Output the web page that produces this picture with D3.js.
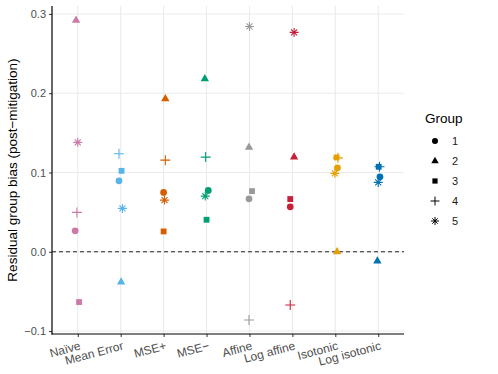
<!DOCTYPE html>
<html>
<head>
<meta charset="utf-8">
<script src="https://cdn.jsdelivr.net/npm/d3@7"></script>
<style>
  body { margin: 0; background: #fff; }
  text { font-family: "Liberation Sans", Arial, sans-serif; }
</style>
</head>
<body>
<div id="chart"></div>
<script>
// methods along the x axis
var methods = ["Naïve", "Mean Error", "MSE+", "MSE−", "Affine", "Log affine", "Isotonic", "Log isotonic"];
var methodColors = ["#CC79A7", "#56B4E9", "#D55E00", "#009E73", "#999999", "#C8203A", "#E69F00", "#0072B2"];
var groups = ["1", "2", "3", "4", "5"];

// residual bias per method, one value per group (1..5)
var biasNaive       = [0.0265, 0.292, -0.0634, 0.0497, 0.138];
var biasMeanError   = [0.0895, -0.0382, 0.1021, 0.1236, 0.0547];
var biasMSEplus     = [0.0749, 0.193, 0.0257, 0.1156, 0.0652];
var biasMSEminus    = [0.0774, 0.2182, 0.0404, 0.1194, 0.0702];
var biasAffine      = [0.0668, 0.1317, 0.0765, -0.0861, 0.2842];
var biasLogAffine   = [0.0567, 0.1194, 0.0665, -0.0672, 0.2767];
var biasIsotonic    = [0.1059, 0.0, 0.119, 0.1185, 0.0989];
var biasLogIsotonic = [0.0946, -0.0117, 0.1072, 0.1072, 0.0875];
var allBias = [biasNaive, biasMeanError, biasMSEplus, biasMSEminus,
               biasAffine, biasLogAffine, biasIsotonic, biasLogIsotonic];

// horizontal jitter (in category steps) as seen in the picture
var jitter = [
  [-0.06, -0.04, 0.03, -0.02, 0.0],
  [-0.04, 0.01, 0.02, -0.04, 0.04],
  [0.0, 0.04, 0.0, 0.04, 0.02],
  [0.04, -0.04, 0.0, -0.02, -0.03],
  [-0.01, -0.01, 0.06, -0.01, 0.0],
  [-0.05, 0.04, -0.05, -0.05, 0.04],
  [0.05, 0.04, 0.03, 0.06, -0.01],
  [0.04, -0.02, 0.01, 0.03, 0.0]
];
var yTicks = [-0.1, 0.0, 0.1, 0.2, 0.3];

var W = 498, H = 374;
var panel = {left: 52, right: 404, top: 6, bottom: 334};

var svg = d3.select("#chart").append("svg")
    .attr("width", W).attr("height", H);

var x = d3.scalePoint().domain(methods)
    .range([panel.left, panel.right]).padding(0.6);
var y = d3.scaleLinear().domain([-0.1037, 0.31])
    .range([panel.bottom, panel.top]);

// grid
var grid = svg.append("g");
grid.selectAll(".gy").data(yTicks).enter().append("line")
    .attr("x1", panel.left).attr("x2", panel.right)
    .attr("y1", function(d){ return y(d); }).attr("y2", function(d){ return y(d); })
    .attr("stroke", "#EBEBEB").attr("stroke-width", 1.1);
grid.selectAll(".gx").data(methods).enter().append("line")
    .attr("x1", function(d){ return x(d); }).attr("x2", function(d){ return x(d); })
    .attr("y1", panel.top).attr("y2", panel.bottom)
    .attr("stroke", "#EBEBEB").attr("stroke-width", 1.1);

// zero reference
svg.append("line")
    .attr("x1", panel.left).attr("x2", panel.right)
    .attr("y1", y(0)).attr("y2", y(0))
    .attr("stroke", "#222").attr("stroke-width", 1)
    .attr("stroke-dasharray", "4,3");

// shapes
function shapePath(g, s) {
  if (g == 0) return d3.symbol(d3.symbolCircle, 36 * s)();
  if (g == 1) return d3.symbol(d3.symbolTriangle, 30 * s)();
  if (g == 2) return d3.symbol(d3.symbolSquare, 34 * s)();
  var r = 5 * Math.sqrt(s);
  if (g == 3) return "M" + (-r) + ",0H" + r + "M0," + (-r) + "V" + r;
  var a = r * 0.85 * Math.SQRT1_2;
  return "M" + (-r*0.9) + ",0H" + (r*0.9) + "M0," + (-r*0.9) + "V" + (r*0.9) +
         "M" + (-a) + "," + (-a) + "L" + a + "," + a + "M" + (-a) + "," + a + "L" + a + "," + (-a);
}
function isLine(g) { return g >= 3; }

var pts = [];
for (var m = 0; m < methods.length; m++) {
  for (var g = 0; g < groups.length; g++) {
    pts.push({m: m, g: g, v: allBias[m][g], j: jitter[m][g]});
  }
}
var step = x.step();
svg.append("g").selectAll("path").data(pts).enter().append("path")
    .attr("d", function(d){ return shapePath(d.g, 1); })
    .attr("transform", function(d){
      return "translate(" + (x(methods[d.m]) + d.j * step) + "," + y(d.v) + ")";
    })
    .attr("fill", function(d){ return isLine(d.g) ? "none" : methodColors[d.m]; })
    .attr("stroke", function(d){ return isLine(d.g) ? methodColors[d.m] : "none"; })
    .attr("stroke-width", 1.1);

// axes
var yAxis = svg.append("g")
    .attr("transform", "translate(" + panel.left + ",0)")
    .call(d3.axisLeft(y).tickValues(yTicks).tickSize(3).tickPadding(3)
      .tickFormat(d3.format(".1f")));
yAxis.select(".domain").remove();
yAxis.selectAll(".tick line").attr("stroke", "#333");
yAxis.selectAll("text").attr("fill", "#4D4D4D").style("font-size", "11px");

var xAxis = svg.append("g")
    .attr("transform", "translate(0," + panel.bottom + ")")
    .call(d3.axisBottom(x).tickSize(3).tickFormat(""));
xAxis.select(".domain").remove();
xAxis.selectAll(".tick line").attr("stroke", "#333");

svg.append("g").selectAll("text").data(methods).enter().append("text")
    .attr("transform", function(d){ return "translate(" + (x(d) + 1) + "," + (panel.bottom + 6) + ") rotate(-15)"; })
    .attr("text-anchor", "end")
    .attr("dy", "0.8em")
    .attr("fill", "#4D4D4D")
    .style("font-size", "12px")
    .text(function(d){ return d; });

svg.append("line")
    .attr("x1", panel.left).attr("x2", panel.left)
    .attr("y1", panel.top).attr("y2", panel.bottom + 0.6)
    .attr("stroke", "#000").attr("stroke-width", 1.2);
svg.append("line")
    .attr("x1", panel.left - 0.6).attr("x2", panel.right)
    .attr("y1", panel.bottom).attr("y2", panel.bottom)
    .attr("stroke", "#000").attr("stroke-width", 1.2);

// y title
svg.append("text")
    .attr("transform", "translate(17," + ((panel.top + panel.bottom) / 2) + ") rotate(-90)")
    .attr("text-anchor", "middle")
    .style("font-size", "13.5px")
    .attr("fill", "#000")
    .text("Residual group bias (post−mitigation)");

// legend
var legend = svg.append("g").attr("transform", "translate(425,0)");
legend.append("text")
    .attr("x", 0).attr("y", 123)
    .style("font-size", "13.5px")
    .text("Group");
var items = legend.selectAll(".item").data(groups).enter().append("g")
    .attr("transform", function(d, i){ return "translate(10," + (141 + i * 20) + ")"; });
items.append("path")
    .attr("d", function(d, i){ return shapePath(i, 0.8); })
    .attr("fill", function(d, i){ return isLine(i) ? "none" : "#000"; })
    .attr("stroke", function(d, i){ return isLine(i) ? "#000" : "none"; })
    .attr("stroke-width", 1);
items.append("text")
    .attr("x", 17).attr("dy", "0.36em")
    .style("font-size", "11px")
    .attr("fill", "#1a1a1a")
    .text(function(d){ return d; });
</script>
</body>
</html>
